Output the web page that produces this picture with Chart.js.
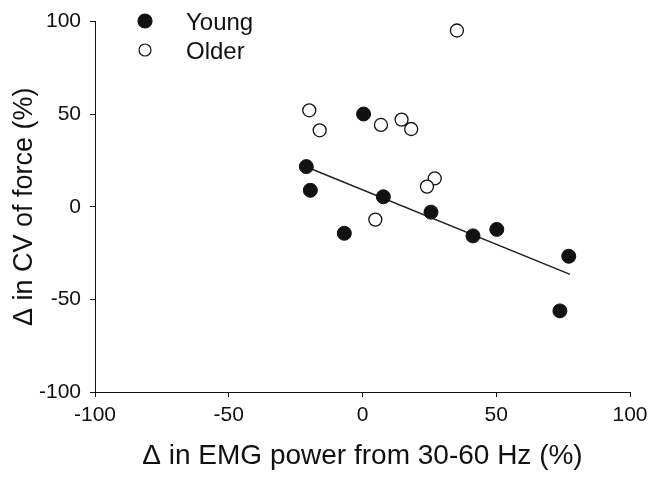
<!DOCTYPE html>
<html>
<head>
<meta charset="utf-8">
<script src="https://cdn.jsdelivr.net/npm/chart.js@4.4.0/dist/chart.umd.min.js"></script>
<style>
html,body{margin:0;padding:0;background:#fff;}
#wrap{width:657px;height:478px;}
</style>
</head>
<body>
<div id="wrap"><canvas id="c" width="657" height="478"></canvas></div>
<script>
const youngX = [-21.0, -19.5, 0.4, 7.8, -6.8, 25.6, 41.3, 50.2, 77.1, 73.8];
const youngY = [21.7, 8.9, 50.1, 5.4, -14.3, -2.9, -15.7, -12.2, -26.7, -56.2];
const olderX = [35.3, -19.9, -16.0, 6.9, 14.6, 18.2, 27.0, 24.1, 4.8];
const olderY = [95.2, 52.1, 41.3, 44.2, 47.1, 42.0, 15.3, 10.9, -6.9];
const fitX = [-20.9, 77.6];
const fitY = [21.5, -36.5];
const legendLabels = ["Young", "Older"];
const xTitle = "\u0394 in EMG power from 30-60 Hz (%)";
const yTitle = "\u0394 in CV of force (%)";

const FONT = "'Liberation Sans', Arial, Helvetica, sans-serif";
const toPts = (xs, ys) => xs.map((x, i) => ({x: x, y: ys[i]}));

const legendPlugin = {
  id: 'customLegend',
  afterDraw(chart) {
    const ctx = chart.ctx;
    ctx.save();
    const rows = [
      {y: 21, fill: '#111', stroke: '#111', r: 7},
      {y: 50, fill: '#fff', stroke: '#111', r: 6}
    ];
    rows.forEach((row, i) => {
      ctx.beginPath();
      ctx.arc(145, row.y, row.r, 0, Math.PI * 2);
      ctx.fillStyle = row.fill;
      ctx.fill();
      ctx.lineWidth = 1.2;
      ctx.strokeStyle = row.stroke;
      ctx.stroke();
      ctx.fillStyle = '#111';
      ctx.font = '24px ' + FONT;
      ctx.textBaseline = 'middle';
      ctx.textAlign = 'left';
      ctx.fillText(legendLabels[i], 186, row.y + 2);
    });
    ctx.restore();
  }
};

new Chart(document.getElementById('c'), {
  type: 'scatter',
  data: {
    datasets: [
      {
        label: legendLabels[0],
        data: toPts(youngX, youngY),
        pointRadius: 7,
        pointHoverRadius: 7,
        backgroundColor: '#111',
        borderColor: '#111',
        borderWidth: 1
      },
      {
        label: legendLabels[1],
        data: toPts(olderX, olderY),
        pointRadius: 6.5,
        pointHoverRadius: 6.5,
        backgroundColor: '#fff',
        borderColor: '#111',
        borderWidth: 1.3
      },
      {
        label: 'fit',
        data: toPts(fitX, fitY),
        showLine: true,
        pointRadius: 0,
        borderColor: '#222',
        borderWidth: 1.5,
        fill: false
      }
    ]
  },
  options: {
    responsive: false,
    animation: false,
    events: [],
    layout: {padding: {top: 16, right: 27, left: 0, bottom: 0}},
    plugins: {legend: {display: false}, tooltip: {enabled: false}},
    scales: {
      x: {
        type: 'linear',
        min: -100, max: 100,
        afterFit(s) { s.height = 86; },
        ticks: {stepSize: 50, color: '#111', font: {family: FONT, size: 21}, padding: 6, maxRotation: 0},
        grid: {display: true, drawOnChartArea: false, drawTicks: true, tickLength: 5, color: '#111', lineWidth: 1},
        border: {display: true, color: '#111', width: 1},
        title: {display: true, text: xTitle, color: '#111', font: {family: FONT, size: 28}, padding: {top: 0, bottom: 5}}
      },
      y: {
        type: 'linear',
        min: -100, max: 100,
        afterFit(s) { s.width = 95; },
        ticks: {stepSize: 50, color: '#111', font: {family: FONT, size: 21}, padding: 9},
        grid: {display: true, drawOnChartArea: false, drawTicks: true, tickLength: 5, color: '#111', lineWidth: 1},
        border: {display: true, color: '#111', width: 1},
        title: {display: true, text: yTitle, color: '#111', font: {family: FONT, size: 27}, padding: {top: 8, bottom: 0}}
      }
    }
  },
  plugins: [legendPlugin]
});
</script>
</body>
</html>
